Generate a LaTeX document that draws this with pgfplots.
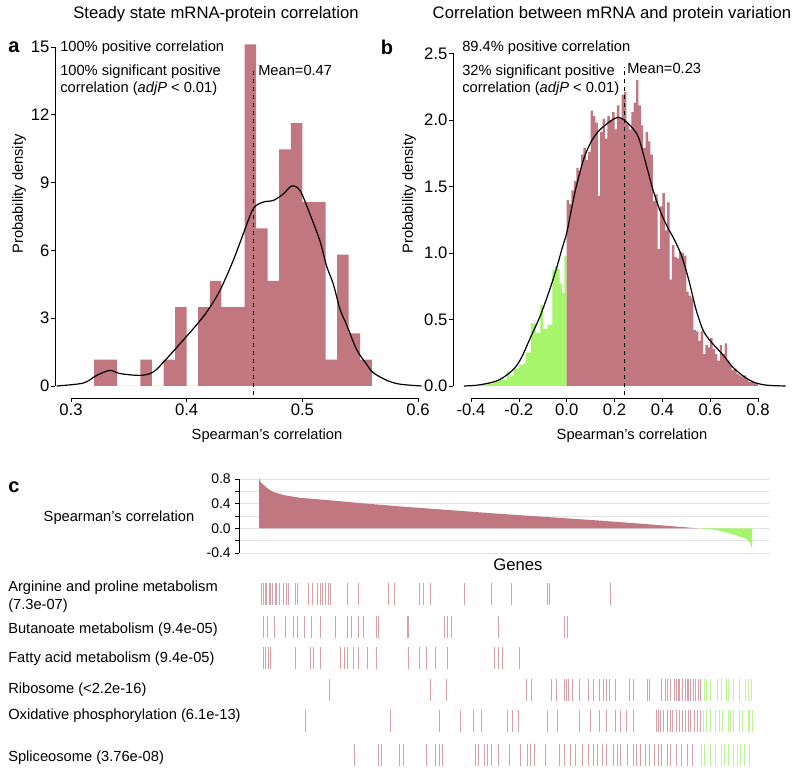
\documentclass[border=0pt]{standalone}
\usepackage{pgfplots}
\pgfplotsset{compat=1.18}
\usepackage{fontspec}
\setmainfont{Liberation Sans}
\definecolor{barred}{RGB}{193,119,127}
\definecolor{bargreen}{RGB}{166,245,106}
\definecolor{gridgray}{RGB}{228,228,228}
\definecolor{tickred}{RGB}{218,160,168}
\definecolor{tickgreen}{RGB}{190,246,150}
\newcommand{\fs}[1]{\fontsize{#1}{#1}\selectfont}
\begin{document}
\begin{tikzpicture}
\path[use as bounding box] (0,0) rectangle (600pt,580.5pt);
\pgfplotsset{
  rstyle/.style={
    anchor=south west,
    axis x line*=bottom, axis y line*=left,
    axis line style={draw=none},
    tick style={black, line width=0.5pt},
    tick align=outside,
    major tick length=3pt,
    clip=false,
    /pgf/number format/assume math mode=true,
    tick label style={font=\fs{12.5}},
    xticklabel style={inner sep=0pt, yshift=-1pt},
    yticklabel style={inner sep=0pt, xshift=-1pt},
  }
}
% ---------------- panel a ----------------
\begin{axis}[rstyle, at={(41.25pt,282pt)}, x=867.75pt, y=16.95pt,
  xmin=0.2862, xmax=0.61, ymin=-0.531, ymax=15.6,
  xtick={0.3,0.4,0.5,0.6}, ytick={0,3,6,9,12,15},
  xticklabel style={/pgf/number format/fixed, /pgf/number format/precision=1}]
\addplot[ybar interval, fill=barred, draw=none] coordinates {
(0.32,1.163)(0.33,1.163)(0.34,0)(0.35,0)(0.36,1.163)(0.37,0)(0.38,1.163)(0.39,3.488)
(0.40,0)(0.41,3.488)(0.42,4.651)(0.43,3.488)(0.44,3.488)(0.45,15.116)(0.46,6.977)
(0.47,4.651)(0.48,10.465)(0.49,11.628)(0.50,8.140)(0.51,8.140)(0.52,1.163)(0.53,5.814)
(0.54,2.326)(0.55,1.163)(0.56,0)};
\addplot[smooth, black, line width=0.9pt, tension=0.5] coordinates {
(0.2876,0)(0.3107,0.13)(0.3222,0.47)(0.3337,0.69)(0.3424,0.55)(0.3597,0.47)(0.3712,0.62)
(0.3827,1.21)(0.3942,1.87)(0.4058,2.54)(0.4173,3.27)(0.4288,4.23)(0.4403,5.56)(0.449,6.74)
(0.4576,7.85)(0.4663,8.14)(0.4749,8.21)(0.4836,8.5)(0.4908,8.85)(0.498,8.65)(0.5066,7.6)
(0.5153,6.4)(0.521,5.3)(0.5268,4.5)(0.5325,3.4)(0.5383,2.7)(0.547,1.6)(0.555,1.0)
(0.561,0.6)(0.5729,0.25)(0.5844,0.08)(0.603,0)};
\addplot[black, dashed, line width=0.8pt] coordinates {(0.458,-0.41)(0.458,14.1)};
\draw[black, line width=0.5pt] (axis cs:0.3,-0.531) -- (axis cs:0.6,-0.531);
\draw[black, line width=0.5pt] (axis cs:0.2862,0) -- (axis cs:0.2862,15);
\end{axis}
% ---------------- panel b ----------------
\begin{axis}[rstyle, at={(339.75pt,282pt)}, x=179.4pt, y=99.75pt,
  xmin=-0.4753, xmax=0.93, ymin=-0.0902, ymax=2.6,
  xtick={-0.4,-0.2,0,0.2,0.4,0.6,0.8}, ytick={0,0.5,1,1.5,2,2.5},
  xticklabel style={/pgf/number format/fixed, /pgf/number format/fixed zerofill, /pgf/number format/precision=1},
  yticklabel style={/pgf/number format/fixed, /pgf/number format/fixed zerofill, /pgf/number format/precision=1}]
\addplot[ybar interval, fill=bargreen, draw=none] coordinates {
(-0.37,0.005)(-0.36,0.01)(-0.35,0.01)(-0.34,0.015)(-0.33,0.02)(-0.32,0.02)(-0.31,0.025)
(-0.30,0.03)(-0.29,0.045)(-0.28,0.045)(-0.27,0.05)(-0.26,0.045)(-0.25,0.11)(-0.24,0.07)
(-0.23,0.075)(-0.22,0.13)(-0.21,0.13)(-0.20,0.16)(-0.19,0.16)(-0.18,0.17)(-0.17,0.25)
(-0.16,0.25)(-0.15,0.47)(-0.14,0.47)(-0.13,0.40)(-0.12,0.40)(-0.11,0.61)(-0.10,0.43)
(-0.09,0.43)(-0.08,0.46)(-0.07,0.46)(-0.06,0.87)(-0.05,0.90)(-0.04,0.88)(-0.03,0.77)
(-0.02,0.70)(-0.01,0.98)(0.00,0)};
\addplot[ybar interval, fill=barred, draw=none] coordinates {
(0.00,1.40)(0.01,1.37)(0.02,1.47)(0.03,1.54)(0.04,1.64)(0.05,1.62)(0.06,1.74)(0.07,1.79)
(0.08,1.70)(0.09,1.76)(0.10,2.07)(0.11,2.03)(0.12,1.98)(0.13,1.43)(0.14,1.91)(0.15,2.01)
(0.16,1.86)(0.17,2.03)(0.18,2.00)(0.19,2.06)(0.20,1.93)(0.21,2.11)(0.22,2.01)(0.23,2.19)
(0.24,2.21)(0.25,1.98)(0.26,1.93)(0.27,2.06)(0.28,2.13)(0.29,2.30)(0.30,2.11)(0.31,1.96)
(0.32,1.79)(0.33,1.91)(0.34,1.84)(0.35,1.74)(0.36,1.39)(0.37,1.44)(0.38,1.03)(0.39,1.35)
(0.40,1.45)(0.41,1.17)(0.42,1.38)(0.43,0.80)(0.44,1.06)(0.45,0.97)(0.46,0.96)(0.47,1.01)
(0.48,1.00)(0.49,0.98)(0.50,0.71)(0.51,0.68)(0.52,0.66)(0.53,0.42)(0.54,0.41)(0.55,0.34)
(0.56,0.41)(0.57,0.24)(0.58,0.31)(0.59,0.29)(0.60,0.36)(0.61,0.28)(0.62,0.24)(0.63,0.19)
(0.64,0.31)(0.65,0.24)(0.66,0.32)(0.67,0.19)(0.68,0.16)(0.69,0.12)(0.70,0.13)(0.71,0.09)
(0.72,0.08)(0.73,0.07)(0.74,0.08)(0.75,0.05)(0.76,0.03)(0.77,0.04)(0.78,0.03)(0.79,0.02)
(0.80,0)};
\addplot[smooth, black, line width=0.9pt, tension=0.5] coordinates {
(-0.43,0)(-0.38,0.005)(-0.33,0.02)(-0.29,0.04)(-0.26,0.07)(-0.22,0.13)(-0.19,0.21)
(-0.15,0.37)(-0.11,0.53)(-0.07,0.73)(-0.04,0.90)(-0.02,1.03)(0,1.15)(0.02,1.33)(0.04,1.50)
(0.07,1.70)(0.10,1.83)(0.13,1.91)(0.16,1.96)(0.19,2.00)(0.215,2.02)(0.24,2.00)(0.27,1.95)
(0.30,1.87)(0.33,1.68)(0.36,1.48)(0.39,1.32)(0.42,1.20)(0.45,1.10)(0.48,0.98)(0.51,0.80)
(0.54,0.58)(0.57,0.42)(0.60,0.34)(0.63,0.28)(0.66,0.22)(0.69,0.15)(0.72,0.10)(0.75,0.06)
(0.78,0.03)(0.82,0.01)(0.86,0.003)(0.915,0)};
\addplot[black, dashed, line width=0.8pt] coordinates {(0.24,-0.068)(0.24,2.40)};
\draw[black, line width=0.5pt] (axis cs:-0.4,-0.0902) -- (axis cs:0.8,-0.0902);
\draw[black, line width=0.5pt] (axis cs:-0.4753,0) -- (axis cs:-0.4753,2.5);
\end{axis}
% ---------------- panel c (bars) ----------------
\begin{axis}[anchor=south west, at={(179.25pt,165.75pt)}, x=0.75pt, y=46.25pt,
  xmin=-20, xmax=511, ymin=-0.4, ymax=0.8, clip=false,
  axis x line=none, axis y line*=left,
  axis line style={black, line width=0.5pt},
  tick style={black, line width=0.5pt}, tick align=outside, major tick length=3pt,
  xtick=\empty, ytick={-0.4,-0.2,0,0.2,0.4,0.6,0.8},
  yticklabels={-0.4,,0.0,,0.4,,0.8},
  ymajorgrids, grid style={gridgray, line width=0.6pt},
  tick label style={font=\fs{10.5}},
  yticklabel style={inner sep=0pt, xshift=-3pt}]
\addplot[fill=barred, draw=none] coordinates {
(0,0)(0,0.817)(1,0.77)(2,0.74)(4.3,0.71)(7.7,0.656)(14.3,0.59)(24.3,0.54)(41,0.495)
(74,0.45)(107.7,0.40)(141,0.355)(191,0.295)(241,0.235)(291,0.18)(341,0.125)(390,0.065)(439,0)};
\addplot[fill=bargreen, draw=none] coordinates {
(439,0)(450,-0.015)(458,-0.03)(466,-0.06)(474,-0.097)(482,-0.14)(488,-0.177)(491,-0.23)
(492.5,-0.31)(493,-0.31)(493,0)};
\end{axis}
% ---------------- panel c (gene set ticks) ----------------
\begin{axis}[anchor=south west, at={(179.25pt,0pt)}, x=0.75pt, y=0.75pt,
  xmin=-20, xmax=511, ymin=0, ymax=194, hide axis, clip=false]
\pgfplotsset{
  rt/.style={only marks, mark=|, mark size=8pt, mark options={draw=tickred, line width=0.5pt}},
  gt/.style={only marks, mark=|, mark size=8pt, mark options={draw=tickgreen, line width=0.5pt}}}
% Arginine and proline
\addplot[rt] coordinates {(2.5,180)(4.3,180)(6,180)(7.7,180)(10,180)(11.7,180)(13,180)(16,180)
(17,180)(20.5,180)(24,180)(27.7,180)(29.5,180)(36,180)(38.4,180)(49,180)(53,180)(58,180)
(61,180)(63.5,180)(66,180)(69,180)(71,180)(88.7,180)(99.5,180)(129,180)(135,180)(160.5,180)
(164,180)(171,180)(205,180)(232,180)(252,180)(288,180)(290,180)(351,180)};
% Butanoate
\addplot[rt] coordinates {(4.3,147)(7.9,147)(15.1,147)(25.9,147)(34.8,147)(38.4,147)(45.6,147)
(52.8,147)(61.8,147)(76.1,147)(88.7,147)(92.3,147)(99.4,147)(104.8,147)(117.4,147)(119.2,147)
(147.9,147)(149.7,147)(185.6,147)(188.5,147)(192.8,147)(239.4,147)(305.8,147)(308.4,147)};
% Fatty acid
\addplot[rt] coordinates {(4.3,116)(6.1,116)(9.7,116)(11.5,116)(36.6,116)(51,116)(54.6,116)
(61.8,116)(81.5,116)(85.1,116)(88.7,116)(94.1,116)(99.4,116)(108.4,116)(117.4,116)(149.7,116)
(160.5,116)(167.6,116)(176.6,116)(188.5,116)(235.8,116)(239.4,116)(243,116)(260.3,116)};
% Ribosome
\addplot[rt] coordinates {(70,84)(171.2,84)(187.4,84)(267.1,84)(272.5,84)(292.6,84)(296.9,84)
(305.8,84)(307.6,84)(309.4,84)(313,84)(320.2,84)(329.2,84)(334.6,84)(340,84)(344.2,84)
(347.1,84)(350.7,84)(356.1,84)(370.4,84)(374,84)(388.4,84)(390.2,84)(402.7,84)(406.3,84)
(408.8,84)(411.7,84)(415.3,84)(417.1,84)(418.9,84)(420.7,84)(423.2,84)(426.1,84)(427.9,84)
(429.7,84)(431.5,84)(434,84)(436.8,84)(439.7,84)(441.5,84)};
\addplot[gt] coordinates {(445.8,84)(447.6,84)(451.2,84)(458.4,84)(462,84)(467.4,84)(469.2,84)
(474.5,84)(479.9,84)(486.4,84)(488.9,84)(492.5,84)};
% Oxidative phosphorylation
\addplot[rt] coordinates {(46.3,53)(131.8,53)(180.2,53)(201.7,53)(214.3,53)(222.2,53)(248.4,53)
(253.8,53)(259.2,53)(287.9,53)(298.7,53)(320.2,53)(331,53)(340,53)(347.1,53)(356.1,53)
(361.5,53)(366.9,53)(374,53)(397.4,53)(399.2,53)(401.7,53)(404.5,53)(408.1,53)(411.7,53)
(413.5,53)(417.1,53)(420.7,53)(423.2,53)(426.1,53)(428.9,53)(431.5,53)(435.1,53)(438.6,53)
(441.5,53)};
\addplot[gt] coordinates {(444,53)(447.6,53)(451.2,53)(456.6,53)(460.2,53)(463.8,53)(469.2,53)
(471,53)(474.5,53)(479.9,53)(483.5,53)(488.9,53)(490.7,53)(493.6,53)};
% Spliceosome
\addplot[rt] coordinates {(95.1,19)(119.2,19)(122.8,19)(140.7,19)(144.3,19)(167.6,19)(176.6,19)
(180.2,19)(183.8,19)(216.1,19)(219.7,19)(225.1,19)(228.7,19)(232.3,19)(239.4,19)(250.2,19)
(261,19)(268.2,19)(271.7,19)(275.3,19)(286.1,19)(300.5,19)(305.8,19)(311.2,19)(316.6,19)
(323.8,19)(329.2,19)(334.6,19)(338.1,19)(343.5,19)(347.1,19)(354.3,19)(357.9,19)(361.5,19)
(368.7,19)(374,19)(377.6,19)(381.2,19)(386.6,19)(390.2,19)(395.6,19)(399.2,19)(402.7,19)
(408.1,19)(411.7,19)(417.1,19)(422.5,19)(427.9,19)(433.3,19)};
\addplot[gt] coordinates {(442.2,19)(445.8,19)(451.2,19)(456.6,19)(462,19)(465.6,19)(469.2,19)
(474.5,19)(478.1,19)(481.7,19)(485.3,19)(490.7,19)};
\end{axis}
% ---------------- texts ----------------
\node[font=\fs{12.5}] at (162pt,570pt) {Steady state mRNA-protein correlation};
\node[font=\fs{12.5}] at (459pt,570pt) {Correlation between mRNA and protein variation};
\node[font=\fs{15}\bfseries] at (10.5pt,545.25pt) {a};
\node[font=\fs{15}\bfseries] at (290.25pt,545.25pt) {b};
\node[font=\fs{15}\bfseries] at (10.5pt,215.25pt) {c};
\node[font=\fs{11}, anchor=west, inner sep=0pt] at (45pt,544.5pt) {100\% positive correlation};
\node[font=\fs{11}, anchor=west, inner sep=0pt] at (45pt,526.5pt) {100\% significant positive};
\node[font=\fs{11}, anchor=west, inner sep=0pt] at (45pt,513.75pt) {correlation (\textit{adjP} < 0.01)};
\node[font=\fs{11}, anchor=west, inner sep=0pt] at (193.5pt,528pt) {Mean=0.47};
\node[font=\fs{11}, anchor=west, inner sep=0pt] at (346.5pt,544.5pt) {89.4\% positive correlation};
\node[font=\fs{11}, anchor=west, inner sep=0pt] at (346.5pt,526.5pt) {32\% significant positive};
\node[font=\fs{11}, anchor=west, inner sep=0pt] at (346.5pt,513.75pt) {correlation (\textit{adjP} < 0.01)};
\node[font=\fs{11}, anchor=west, inner sep=0pt] at (470.25pt,529.5pt) {Mean=0.23};
\node[font=\fs{11}, rotate=90] at (14.25pt,435pt) {Probability density};
\node[font=\fs{11}, rotate=90] at (306.75pt,435pt) {Probability density};
\node[font=\fs{11}] at (200.25pt,253.5pt) {Spearman’s correlation};
\node[font=\fs{11}] at (474pt,253.5pt) {Spearman’s correlation};
\node[font=\fs{11}] at (89.25pt,192pt) {Spearman’s correlation};
\node[font=\fs{12.5}] at (388.5pt,156.75pt) {Genes};
\node[font=\fs{11}, anchor=west, inner sep=0pt] at (6pt,139.5pt) {Arginine and proline metabolism};
\node[font=\fs{11}, anchor=west, inner sep=0pt] at (6pt,126pt) {(7.3e-07)};
\node[font=\fs{11}, anchor=west, inner sep=0pt] at (6pt,108pt) {Butanoate metabolism (9.4e-05)};
\node[font=\fs{11}, anchor=west, inner sep=0pt] at (6pt,86.25pt) {Fatty acid metabolism (9.4e-05)};
\node[font=\fs{11}, anchor=west, inner sep=0pt] at (6pt,63pt) {Ribosome (<2.2e-16)};
\node[font=\fs{11}, anchor=west, inner sep=0pt] at (6pt,43.5pt) {Oxidative phosphorylation (6.1e-13)};
\node[font=\fs{11}, anchor=west, inner sep=0pt] at (6pt,12pt) {Spliceosome (3.76e-08)};
\end{tikzpicture}
\end{document}
